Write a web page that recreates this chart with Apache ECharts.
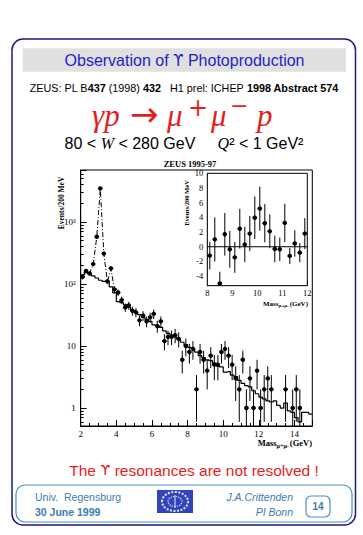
<!DOCTYPE html>
<html><head><meta charset="utf-8">
<script src="https://cdn.jsdelivr.net/npm/echarts@6/dist/echarts.min.js"></script>
<style>html,body{margin:0;padding:0;background:#fff}#c{width:363px;height:535px}</style>
</head><body><div id="c"></div>
<script>
// ---- main plot: dimuon mass spectrum (Events / 200 MeV) ----
const massCenters = [2.1,2.3,2.5,2.7,2.9,3.1,3.3,3.5,3.7,3.9,
  4.1,4.3,4.5,4.7,4.9,5.1,5.3,5.5,5.7,5.9,
  6.1,6.3,6.5,6.7,6.9,7.1,7.3,7.5,7.7,7.9,
  8.1,8.3,8.5,8.7,8.9,9.1,9.3,9.5,9.7,9.9,
  10.1,10.3,10.5,10.7,10.9,11.1,11.3,11.5,11.7,11.9,
  12.1,12.3,12.5,12.7,13.5,13.9,14.1,14.3];
const counts = [130,162,148,210,578,3480,310,110,179,82,
  73,55,42,45,37,35,26,31,25,29,
  33,21,25,12,14,14,15,13,6,10,
  8,9,2,8,6,4,7,5,5,8,
  9,7,5,3,2,6,1,3,1,4,
  1,2,3,2,2,1,2,1];
const countErr = [11.4,12.7,12.2,14.5,24,59,17.6,10.5,13.4,9.1,
  8.5,7.4,6.5,6.7,6.1,5.9,5.1,5.6,5,5.4,
  5.7,4.6,5,3.5,3.7,3.7,3.9,3.6,2.4,3.2,
  2.8,3,1.4,2.8,2.4,2,2.6,2.2,2.2,2.8,
  3,2.6,2.2,1.7,1.4,2.4,1,1.7,1,2,
  1,1.4,1.7,1.4,1.4,1,1.4,1];
// background MC histogram (lower bin edges, 200 MeV bins)
const histEdges = [2.0,2.2,2.4,2.6,2.8,3.0,3.2,3.4,3.6,3.8,
  4.0,4.2,4.4,4.6,4.8,5.0,5.2,5.4,5.6,5.8,
  6.0,6.2,6.4,6.6,6.8,7.0,7.2,7.4,7.6,7.8,
  8.0,8.2,8.4,8.6,8.8,9.0,9.2,9.4,9.6,9.8,
  10.0,10.2,10.4,10.6,10.8,11.0,11.2,11.4,11.6,11.8,
  12.0,12.2,12.4,12.6,12.8,13.0,13.2,13.4,13.6,13.8,
  14.0,14.2,14.4,14.6,14.8,15.0];
const histValues = [140,155,145,135,125,115,110,108,90,72,
  52,50,46,42,38,35,32,29,27,25,
  22,21,20,17.5,16,15,14,13,11.5,10.5,
  9.5,9,8,7,6.5,6,5.8,5.3,4.8,4.6,
  3.8,3.9,3.4,3.2,2.8,2.5,2.3,2.2,1.9,1.7,
  1.5,1.4,1.3,1.25,1.3,1.1,1.0,1.2,0.9,0.85,
  0.7,0.6,0.85,0.85,0.8,0.8];
// dash-dotted fit through the J/psi and psi' region
const fitMass = [2.1,2.3,2.5,2.7,2.9,3.1,3.3,3.5,3.7,3.9];
const fitValues = [128,160,150,205,570,3450,300,110,175,80];
const mainYLabels = [1,10,100,1000];
const mainYMinorTicks = [0.6,0.7,0.8,0.9,2,3,4,5,6,7,8,9,20,30,40,50,60,70,80,90,200,300,400,500,600,700,800,900,2000,3000,4000,5000,6000];

// ---- inset: background-subtracted, 8-12 GeV ----
const insetMass = [8.1,8.3,8.5,8.7,8.9,9.1,9.3,9.5,9.7,9.9,10.1,10.3,10.5,10.7,10.9,11.1,11.3,11.5,11.7,11.9];
const insetValues = [-1.2,1.0,-5.0,1.7,-0.35,-1.45,2.45,0.3,1.8,3.95,5.2,3.2,2.1,-0.3,-0.35,3.25,-1.25,0.45,-0.8,1.8];
const insetErr = [1.9,3.0,1.6,2.9,2.5,2.1,2.7,2.4,2.4,2.9,3.0,2.6,2.3,1.8,1.6,2.6,1.1,1.8,1.3,2.1];
const insetYLabels = [-4,-2,0,2,4,6,8,10];
const insetYTicks = [-5,-4,-3,-2,-1,0,1,2,3,4,5,6,7,8,9,10];

const FOOT = '#3a7db0';
const RED = '#e41e1e';
const BLUE = '#1f1fc8';
const SERIF = '"Liberation Serif", "DejaVu Serif", serif';
const SANS = '"Liberation Sans", Arial, sans-serif';
const DJ = '"DejaVu Sans", sans-serif';

function errItems(xs, ys, es, floor) {
  return xs.map((x, i) => [x, ys[i], Math.max(ys[i] - es[i], floor), ys[i] + es[i]]);
}
function errRender(params, api) {
  const x = api.value(0), y = api.value(1), lo = api.value(2), hi = api.value(3);
  const cs = params.coordSys;
  const p = api.coord([x, y]);
  const a = api.coord([x, hi]);
  const b = api.coord([x, lo]);
  const top = Math.max(a[1], cs.y);
  const bot = Math.min(b[1], cs.y + cs.height);
  return {type: 'group', children: [
    {type: 'line', shape: {x1: p[0], y1: top, x2: p[0], y2: bot}, style: {stroke: '#000', lineWidth: 1}},
    {type: 'line', shape: {x1: p[0] - 2.2, y1: p[1], x2: p[0] + 2.2, y2: p[1]}, style: {stroke: '#000', lineWidth: 1.4}},
    {type: 'circle', shape: {cx: p[0], cy: p[1], r: 2.2}, style: {fill: '#000'}}
  ]};
}

function txt(x, y, text, font, fill, align, valign, extra) {
  const o = {type: 'text', x: x, y: y, z: 50,
    style: Object.assign({text: text, font: font, fill: fill,
      textAlign: align || 'left', textVerticalAlign: valign || 'middle',
      align: align || 'left', verticalAlign: valign || 'middle'}, extra && extra.style || {})};
  if (extra && extra.rotation) o.rotation = extra.rotation;
  return o;
}

const graphics = [
  // outer slide frame
  {type: 'rect', z: 1, shape: {x: 12, y: 39, width: 343.5, height: 486, r: 11}, style: {fill: 'none', stroke: '#1a1a8a', lineWidth: 1.5}},
  // title band
  {type: 'rect', z: 2, shape: {x: 22.7, y: 48.3, width: 323.3, height: 23.4}, style: {fill: '#e0e0e0'}},
  txt(184.5, 60.5, '', '16px ' + SANS, BLUE, 'center', 'middle', {style: {
    text: '{n|Observation of }{u|\u03D2}{n| Photoproduction}',
    rich: {n: {font: '16px ' + SANS, fill: BLUE}, u: {font: '15px ' + DJ, fill: BLUE}}}}),
  txt(184, 88, '', '10.8px ' + SANS, '#000', 'center', 'middle', {style: {
    text: '{n|ZEUS: PL B}{b|437}{n| (1998) }{b|432}{n|   H1 prel: ICHEP }{b|1998 Abstract 574}',
    rich: {n: {font: '10.8px ' + SANS, fill: '#000'}, b: {font: 'bold 10.8px ' + SANS, fill: '#000'}}}}),
  // reaction
  txt(92, 115.5, '\u03B3p', 'italic 31px ' + SERIF, RED, 'left'),
  txt(130, 114, '\u2192', '34px ' + DJ, RED, 'left'),
  txt(167, 115.5, '\u03BC', 'italic 31px ' + SERIF, RED, 'left'),
  txt(188, 107.5, '+', '24px ' + DJ, RED, 'left'),
  txt(211, 115.5, '\u03BC', 'italic 31px ' + SERIF, RED, 'left'),
  txt(230, 105.5, '\u2212', '22px ' + DJ, RED, 'left'),
  txt(257, 115.5, 'p', 'italic 31px ' + SERIF, RED, 'left'),
  // kinematic range
  txt(184, 143, '', '16px ' + SANS, '#000', 'center', 'middle', {style: {
    text: '{n|80 < }{i|W}{n| < 280 GeV     }{i|Q}{n|\u00B2 < 1 GeV\u00B2}',
    rich: {n: {font: '16px ' + SANS, fill: '#000'}, i: {font: 'italic 16px ' + SERIF, fill: '#000'}}}}),
  // plot annotations
  txt(190, 164, 'ZEUS 1995-97', 'bold 8.5px ' + SERIF, '#000', 'center'),
  txt(61, 203, 'Events/200 MeV', 'bold 7.5px ' + SERIF, '#000', 'center', 'middle', {rotation: Math.PI / 2}),
  txt(186.5, 203, 'Events/200 MeV', 'bold 6.5px ' + SERIF, '#000', 'center', 'middle', {rotation: Math.PI / 2}),
  txt(312, 443, '', 'bold 8px ' + SERIF, '#000', 'right', 'middle', {style: {
    text: '{a|Mass}{s|\u03BC+\u03BC-}{a|(GeV)}',
    rich: {a: {font: 'bold 8.5px ' + SERIF, fill: '#000'}, s: {font: 'bold 6px ' + SERIF, fill: '#000', padding: [5, 1, 0, 0]}}}}),
  txt(308, 303.5, '', 'bold 7px ' + SERIF, '#000', 'right', 'middle', {style: {
    text: '{a|Mass}{s|\u03BC+\u03BC-}{a|(GeV)}',
    rich: {a: {font: 'bold 7px ' + SERIF, fill: '#000'}, s: {font: 'bold 5px ' + SERIF, fill: '#000', padding: [4, 1, 0, 0]}}}}),
  // conclusion
  txt(194, 470, '', '15.5px ' + SANS, RED, 'center', 'middle', {style: {
    text: '{n|The }{u|\u03D2}{n| resonances are not resolved !}',
    rich: {n: {font: '15.5px ' + SANS, fill: RED}, u: {font: '14.5px ' + DJ, fill: RED}}}}),
  // footer
  {type: 'rect', z: 2, shape: {x: 16, y: 485, width: 336, height: 37, r: 9}, style: {fill: 'none', stroke: '#4a8fbc', lineWidth: 1.2}},
  txt(35, 497, 'Univ.  Regensburg', '10.5px ' + SANS, FOOT, 'left'),
  txt(35, 511.5, '30 June 1999', 'bold 10.5px ' + SANS, FOOT, 'left'),
  txt(293, 497, 'J.A.Crittenden', 'italic 10.5px ' + SANS, FOOT, 'right'),
  txt(293, 511.5, 'PI Bonn', 'italic 10.5px ' + SANS, FOOT, 'right'),
  {type: 'rect', z: 2, shape: {x: 306, y: 496, width: 24, height: 21, r: 5}, style: {fill: 'none', stroke: '#4a8fbc', lineWidth: 1.2}},
  txt(318, 506.5, '14', 'bold 10px ' + SANS, FOOT, 'center'),
  // logo
  {type: 'rect', z: 2, shape: {x: 157, y: 490, width: 36, height: 23}, style: {fill: '#3344b8'}},
  {type: 'ellipse', z: 3, shape: {cx: 175, cy: 501.5, rx: 13, ry: 9.5}, style: {fill: 'none', stroke: '#dfe4ff', lineWidth: 2, lineDash: [2, 1.5]}},
  {type: 'ellipse', z: 3, shape: {cx: 175, cy: 501.5, rx: 7, ry: 5}, style: {fill: 'none', stroke: '#c8d0ff', lineWidth: 1.2, lineDash: [1.5, 1]}},
  {type: 'line', z: 3, shape: {x1: 175, y1: 495, x2: 175, y2: 508}, style: {stroke: '#dfe4ff', lineWidth: 1}}
];

const tickStyle = {color: '#000', fontFamily: SERIF, fontSize: 9};

const option = {
  animation: false,
  backgroundColor: '#fff',
  graphic: graphics,
  grid: [
    {left: 80.7, top: 170, width: 231.6, height: 256, show: true, borderColor: '#000', borderWidth: 1, backgroundColor: 'transparent'},
    {left: 207.3, top: 173.3, width: 100, height: 112.4, show: true, borderColor: '#000', borderWidth: 1, backgroundColor: '#fff', z: 5}
  ],
  xAxis: [
    {gridIndex: 0, type: 'value', min: 2, max: 15, interval: 2,
      axisLine: {show: true, onZero: false, lineStyle: {color: '#000', width: 1}},
      axisTick: {show: true, inside: true, length: 6, lineStyle: {color: '#000'}},
      minorTick: {show: true, splitNumber: 4, length: 3, lineStyle: {color: '#000'}},
      splitLine: {show: false}, minorSplitLine: {show: false},
      axisLabel: Object.assign({margin: 3, formatter: v => (v > 14.5 ? '' : String(v))}, tickStyle)},
    {gridIndex: 1, type: 'value', min: 8, max: 12, interval: 1,
      axisLine: {show: true, onZero: false, lineStyle: {color: '#000', width: 1}},
      axisTick: {show: true, inside: true, length: 5, lineStyle: {color: '#000'}},
      minorTick: {show: true, splitNumber: 5, length: 2.5, lineStyle: {color: '#000'}},
      splitLine: {show: false}, minorSplitLine: {show: false},
      axisLabel: Object.assign({margin: 3}, tickStyle, {fontSize: 8.5})}
  ],
  yAxis: [
    {gridIndex: 0, type: 'log', logBase: 10, min: 0.513, max: 6900,
      axisLine: {show: true, lineStyle: {color: '#000', width: 1}},
      axisTick: {show: true, inside: true, length: 6, lineStyle: {color: '#000'}},
      splitLine: {show: false},
      axisLabel: Object.assign({margin: 5, formatter: v => {
        const l = Math.log10(v), k = Math.round(l);
        if (Math.abs(l - k) > 1e-6) return '';
        if (mainYLabels.indexOf(Math.pow(10, k)) < 0) return '';
        if (k === 0) return '1';
        if (k === 1) return '10';
        return '10' + (k === 2 ? '\u00B2' : '\u00B3');
      }}, tickStyle)},
    {gridIndex: 1, type: 'value', min: -5.3, max: 10,
      axisLine: {show: true, onZero: false, lineStyle: {color: '#000', width: 1}},
      axisTick: {show: true, inside: true, length: 3, customValues: insetYTicks, lineStyle: {color: '#000'}},
      splitLine: {show: false},
      axisLabel: Object.assign({margin: 4, customValues: insetYLabels}, tickStyle, {fontSize: 8.5})},
    {gridIndex: 0, type: 'log', logBase: 10, min: 0.513, max: 6900, position: 'left',
      axisLine: {show: false},
      axisTick: {show: true, inside: true, length: 3, customValues: mainYMinorTicks, lineStyle: {color: '#000'}},
      axisLabel: {show: false}, splitLine: {show: false}}
  ],
  series: [
    {type: 'line', xAxisIndex: 0, yAxisIndex: 0, step: 'end', symbol: 'none',
      lineStyle: {color: '#000', width: 1.2},
      data: histEdges.map((x, i) => [x, histValues[i]])},
    {type: 'line', xAxisIndex: 0, yAxisIndex: 0, symbol: 'none',
      lineStyle: {color: '#000', width: 1, type: [5, 2, 1, 2]},
      data: fitMass.map((x, i) => [x, fitValues[i]])},
    {type: 'custom', xAxisIndex: 0, yAxisIndex: 0, renderItem: errRender, clip: true,
      data: errItems(massCenters, counts, countErr, 0.1)},
    {type: 'line', xAxisIndex: 1, yAxisIndex: 1, symbol: 'none', z: 10,
      lineStyle: {color: '#000', width: 1.2},
      data: [[8, 0], [12, 0]]},
    {type: 'custom', xAxisIndex: 1, yAxisIndex: 1, renderItem: errRender, clip: true, z: 11,
      data: errItems(insetMass, insetValues, insetErr, -100)}
  ]
};

const chart = echarts.init(document.getElementById('c'), null, {renderer: 'svg'});
chart.setOption(option);
</script>
</body></html>
